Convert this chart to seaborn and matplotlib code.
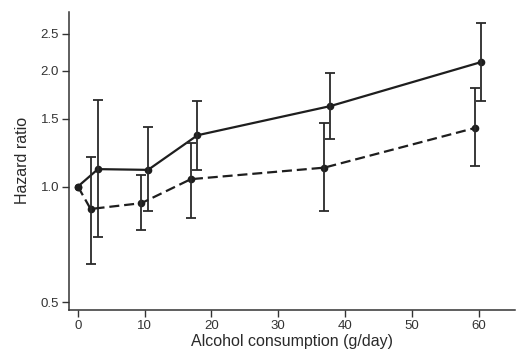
import numpy as np
import pandas as pd
import seaborn as sns
from matplotlib import pyplot as plt
from matplotlib.ticker import FixedLocator, FixedFormatter, NullLocator

# data
alcohol_solid = [0, 3, 10.5, 17.9, 37.8, 60.4]
hr_solid = [1.0, 1.11, 1.105, 1.36, 1.62, 2.11]
lo_solid = [1.0, 0.74, 0.864, 1.105, 1.33, 1.67]
hi_solid = [1.0, 1.68, 1.43, 1.67, 1.97, 2.66]

alcohol_dashed = [0, 1.9, 9.5, 16.9, 36.9, 59.4]
hr_dashed = [1.0, 0.874, 0.905, 1.045, 1.12, 1.42]
lo_dashed = [1.0, 0.63, 0.771, 0.827, 0.866, 1.13]
hi_dashed = [1.0, 1.196, 1.074, 1.30, 1.46, 1.81]

yticks = [0.5, 1.0, 1.5, 2.0, 2.5]
xticks = [0, 10, 20, 30, 40, 50, 60]

sns.set_style("ticks")
plt.rcParams['font.family'] = ['Liberation Sans', 'DejaVu Sans']

fig = plt.figure(figsize=(5.18, 3.6), dpi=100)
ax = fig.add_axes([0.133, 0.139, 0.862, 0.828])

ink = "#1e1e1e"
series = [
    (alcohol_solid, hr_solid, lo_solid, hi_solid, "-"),
    (alcohol_dashed, hr_dashed, lo_dashed, hi_dashed, (0, (4.5, 2.2))),
]
for x, y, lo, hi, ls in series:
    df = pd.DataFrame({"x": x, "y": y})
    sns.lineplot(data=df, x="x", y="y", ax=ax, color=ink, lw=1.6,
                 linestyle=ls, marker="o", markersize=5.5, markeredgewidth=0)
    y = np.array(y)
    err = np.vstack([y - np.array(lo), np.array(hi) - y])
    # no bar on the reference point
    ax.errorbar(x[1:], y[1:], yerr=err[:, 1:], fmt="none", ecolor="#2a2a2a",
                elinewidth=1.3, capsize=3.5, capthick=1.3)

ax.set_yscale("log")
ax.set_ylim(0.477, 2.85)
ax.set_xlim(-1.35, 65.5)
ax.yaxis.set_major_locator(FixedLocator(yticks))
ax.yaxis.set_major_formatter(FixedFormatter([f"{v:.1f}" for v in yticks]))
ax.yaxis.set_minor_locator(NullLocator())
ax.set_xticks(xticks)

ax.set_xlabel("Alcohol consumption (g/day)", fontsize=11.5, color="#2a2a2a", labelpad=2)
ax.set_ylabel("Hazard ratio", fontsize=11.5, color="#2a2a2a", labelpad=8)
ax.tick_params(axis="both", labelsize=9.5, colors="#333333", length=5, width=1, pad=2)
for s in ["left", "bottom"]:
    ax.spines[s].set_color("#333333")
    ax.spines[s].set_linewidth(1.1)
sns.despine(ax=ax)

fig.savefig("out.png", dpi=100)
